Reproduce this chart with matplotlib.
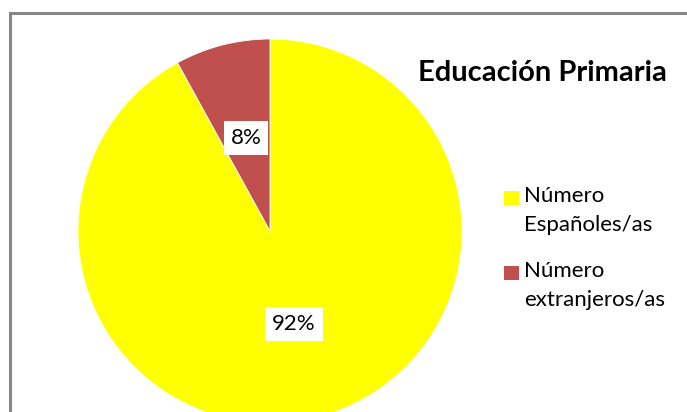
import matplotlib
matplotlib.use("Agg")
import matplotlib.pyplot as plt
from matplotlib.patches import Rectangle

# ---- datos ----
categorias = ['Número\nEspañoles/as', 'Número\nextranjeros/as']
porcentajes = [92, 8]
colores = ['#FFFF00', '#C0504D']
titulo = 'Educación Primaria'

plt.rcParams['font.family'] = ['Lato', 'DejaVu Sans']

W, H = 687, 412
fig = plt.figure(figsize=(W/100, H/100), dpi=100)

# marco gris del gráfico (sale por la derecha y por abajo)
fig.patches.append(Rectangle((10/W, -0.1), 1.2, 1 - 13/H + 0.1, transform=fig.transFigure,
                             fill=False, ec='#868686', lw=2.2))

# pie: centro (270, 231) px, radio 192 px
cx, cy, r = 270, 231, 192
ax = fig.add_axes([(cx - r)/W, (H - cy - r)/H, 2*r/W, 2*r/H])
wedges, _, autot = ax.pie(porcentajes, colors=colores, startangle=90, counterclock=False,
                          autopct='%1.0f%%', pctdistance=0.5,
                          wedgeprops=dict(edgecolor='white', linewidth=0.6),
                          textprops=dict(fontsize=16, color='black'))
for t in autot:
    t.set_bbox(dict(facecolor='white', edgecolor='none', pad=5))
ax.set_xlim(-1, 1); ax.set_ylim(-1, 1)
ax.set_aspect('equal')

fig.text(542/W, 1 - 73/H, titulo, fontsize=21, fontweight='bold', ha='center', va='center')

# leyenda a mano: cuadro alineado con la primera línea
for i, (lab, col) in enumerate(zip(categorias, colores)):
    y0 = 191 + i*75
    fig.patches.append(Rectangle((504/W, 1 - (y0 + 14)/H), 15/W, 14/H,
                                 transform=fig.transFigure, fc=col, ec='none'))
    fig.text(524/W, 1 - (y0 - 5)/H, lab, fontsize=16, ha='left', va='top', linespacing=1.55)

fig.savefig('out.png', dpi=100)
